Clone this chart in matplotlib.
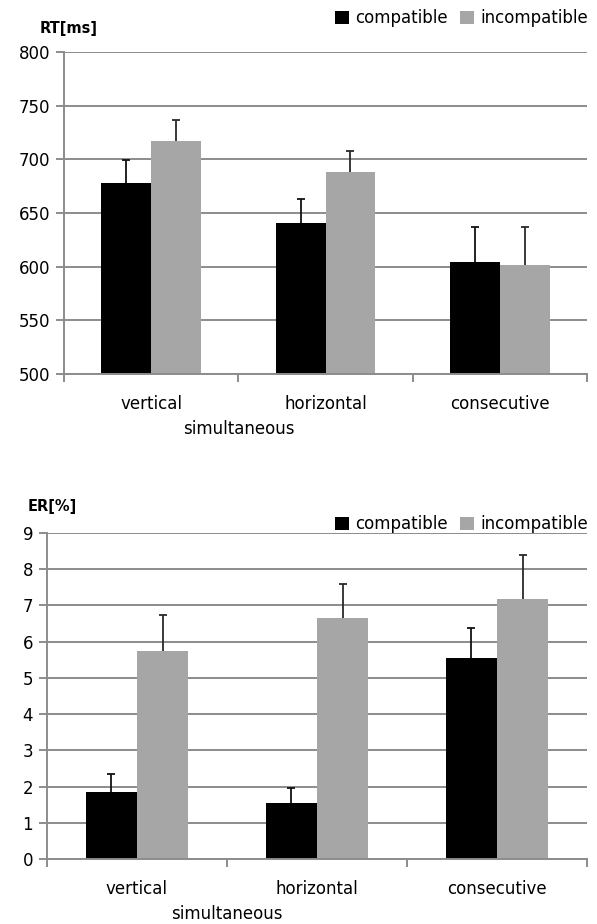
import matplotlib
matplotlib.use("Agg")
import matplotlib.pyplot as plt
import numpy as np
from matplotlib.patches import Patch

plt.rcParams['font.family'] = ['DejaVu Sans']

categories = ["vertical", "horizontal", "consecutive"]
group_label = "simultaneous"
series_names = ["compatible", "incompatible"]

rt_compatible = [678, 641, 604]
rt_compatible_err = [21, 22, 33]
rt_incompatible = [717, 688, 602]
rt_incompatible_err = [20, 20, 35]

er_compatible = [1.85, 1.55, 5.55]
er_compatible_err = [0.50, 0.42, 0.83]
er_incompatible = [5.75, 6.65, 7.18]
er_incompatible_err = [1.00, 0.95, 1.20]

rt_ticks = [500, 550, 600, 650, 700, 750, 800]
er_ticks = list(range(0, 10))

BLACK = "#000000"
GRAY = "#a6a6a6"
GRID = "#8c8c8c"

fig = plt.figure(figsize=(5.97, 9.24), dpi=100)

def draw(ax, comp, comp_err, inc, inc_err, ticks, ylabel, fig_label_xy, legend_xy):
    x = np.arange(len(categories))
    w = 0.285
    ax.bar(x - w / 2, comp, w, color=BLACK, zorder=3)
    ax.bar(x + w / 2, inc, w, color=GRAY, zorder=3)
    ax.errorbar(x - w / 2, comp, yerr=comp_err, fmt='none',
                ecolor='#111111', elinewidth=1.3, capsize=3, capthick=1.3, zorder=2)
    ax.errorbar(x + w / 2, inc, yerr=inc_err, fmt='none',
                ecolor='#2a2a2a', elinewidth=1.3, capsize=3, capthick=1.3, zorder=2)
    ax.set_xlim(-0.5, len(categories) - 0.5)
    ax.set_ylim(ticks[0], ticks[-1])
    ax.set_yticks(ticks)
    ax.yaxis.grid(True, color=GRID, linewidth=1.4, zorder=0)
    ax.set_axisbelow(True)
    for s in ['top', 'right']:
        ax.spines[s].set_visible(False)
    for s in ['left', 'bottom']:
        ax.spines[s].set_color(GRID)
        ax.spines[s].set_linewidth(1.4)
        ax.spines[s].set_zorder(3.5)
    ax.set_xticks(x)
    ax.set_xticklabels(categories, fontsize=12)
    ax.set_xticks(np.arange(-0.5, len(categories)), minor=True)
    ax.tick_params(axis='x', which='major', length=0, pad=15)
    ax.tick_params(axis='x', which='minor', length=6, width=1.4, color=GRID)
    ax.tick_params(axis='y', length=6, width=1.4, color=GRID, labelsize=12, pad=4)
    ax.annotate(group_label, xy=(0.5, ticks[0]), xycoords='data',
                xytext=(0, -39.5), textcoords='offset points',
                ha='center', va='center', fontsize=12, annotation_clip=False)
    fig.text(fig_label_xy[0], fig_label_xy[1], ylabel, fontsize=10.5, fontweight='bold',
             ha='left', va='center')
    handles = [Patch(facecolor=BLACK, label=series_names[0]),
               Patch(facecolor=GRAY, label=series_names[1])]
    fig.legend(handles=handles, loc='center left', bbox_to_anchor=legend_xy, ncol=2,
               frameon=False, fontsize=12, handlelength=0.83, handleheight=0.83,
               handletextpad=0.36, columnspacing=0.78, borderaxespad=0, borderpad=0)

ax1 = fig.add_axes([64 / 597, 1 - 374 / 924, (587 - 64) / 597, (374 - 52) / 924])
draw(ax1, rt_compatible, rt_compatible_err, rt_incompatible, rt_incompatible_err,
     rt_ticks, "RT[ms]", (40 / 597, 1 - 28 / 924), (335 / 597, 1 - 18 / 924))

ax2 = fig.add_axes([47 / 597, 1 - 859 / 924, (587 - 47) / 597, (859 - 533) / 924])
draw(ax2, er_compatible, er_compatible_err, er_incompatible, er_incompatible_err,
     er_ticks, "ER[%]", (28 / 597, 1 - 506 / 924), (335 / 597, 1 - 524 / 924))

fig.savefig("out.png", dpi=100)
